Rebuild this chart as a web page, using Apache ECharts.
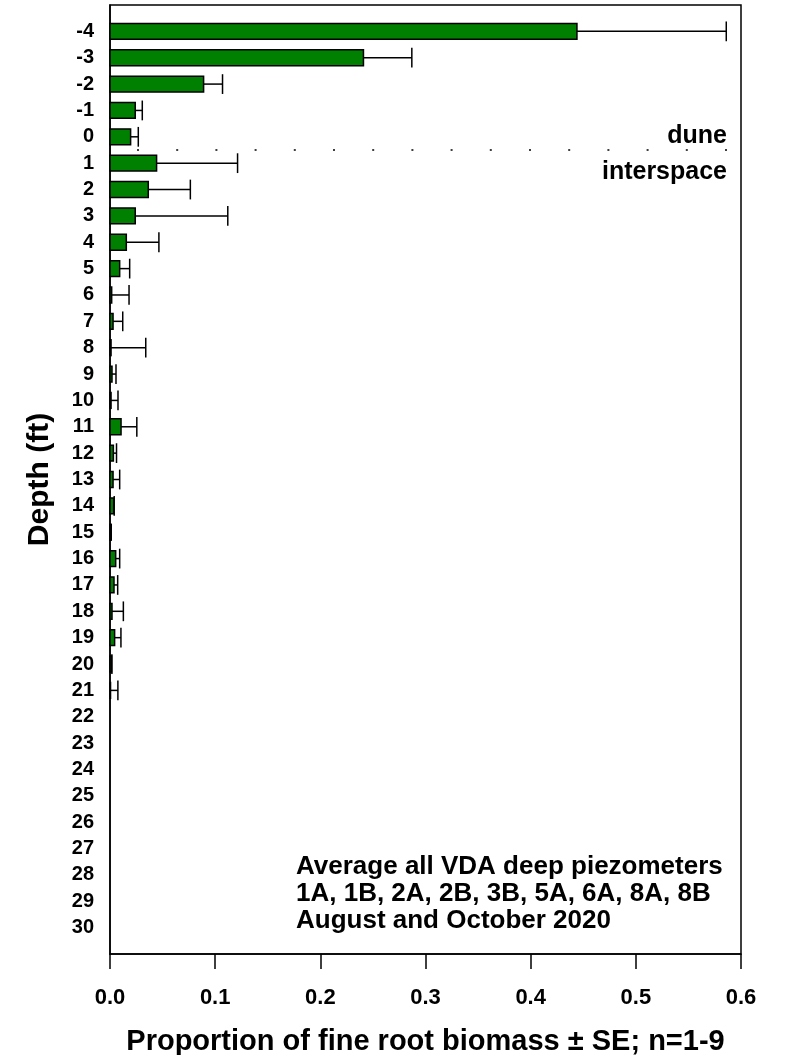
<!DOCTYPE html>
<html>
<head>
<meta charset="utf-8">
<script src="https://cdn.jsdelivr.net/npm/echarts@6/dist/echarts.min.js"></script>
<style>
  html, body { margin: 0; padding: 0; background: #fff; }
  #chart { width: 785px; height: 1055px; }
</style>
</head>
<body>
<div id="chart"></div>
<script>
// Depth below surface (ft); negative values are within the dune
const depths = [-4, -3, -2, -1, 0, 1, 2, 3, 4, 5, 6, 7, 8, 9, 10, 11, 12, 13, 14, 15,
                16, 17, 18, 19, 20, 21, 22, 23, 24, 25, 26, 27, 28, 29, 30];
// Mean proportion of fine root biomass per depth
const means = [0.444, 0.241, 0.089, 0.024, 0.0196, 0.0443, 0.0364, 0.024, 0.0155, 0.0092,
               0.0016, 0.0029, 0.001, 0.0019, 0.001, 0.0105, 0.0032, 0.0029, 0.0035, 0.0012,
               0.0054, 0.0038, 0.0019, 0.0044, 0.0015, 0.0005,
               null, null, null, null, null, null, null, null, null];
// Standard error per depth
const stdErr = [0.142, 0.046, 0.018, 0.0067, 0.0073, 0.077, 0.040, 0.088, 0.031, 0.0095,
                0.0165, 0.0092, 0.033, 0.0038, 0.0066, 0.015, 0.003, 0.0063, 0.0005, 0,
                0.0038, 0.0035, 0.0108, 0.006, 0.0003, 0.007,
                null, null, null, null, null, null, null, null, null];
// Boundary between dune and interspace
const boundaryDepth = 0.5;
const xTicks = { min: 0, max: 0.6, step: 0.1 };
const noteLines = [
  'Average all VDA deep piezometers',
  '1A, 1B, 2A, 2B, 3B, 5A, 6A, 8A, 8B',
  'August and October 2020'
];

const FONT = '"Liberation Sans", Arial, sans-serif';

const rows = depths
  .map((d, i) => [d, means[i], stdErr[i]])
  .filter(r => r[1] !== null);

const chart = echarts.init(document.getElementById('chart'), null, { renderer: 'canvas' });

function renderBar(params, api) {
  const depth = api.value(0);
  const mean = api.value(1);
  const start = api.coord([0, depth]);
  const end = api.coord([mean, depth]);
  const h = api.size([0, 1])[1] * 0.6;
  return {
    type: 'rect',
    shape: { x: start[0], y: start[1] - h / 2, width: end[0] - start[0], height: h },
    style: { fill: '#008000', stroke: '#000', lineWidth: 1.5 }
  };
}

function renderErr(params, api) {
  const depth = api.value(0);
  const mean = api.value(1);
  const se = api.value(2);
  if (!se) return null;
  const a = api.coord([mean, depth]);
  const b = api.coord([mean + se, depth]);
  const cap = api.size([0, 1])[1] * 0.75;
  const style = { stroke: '#000', lineWidth: 1.5, fill: null };
  return {
    type: 'group',
    children: [
      { type: 'line', shape: { x1: a[0], y1: a[1], x2: b[0], y2: b[1] }, style },
      { type: 'line', shape: { x1: b[0], y1: b[1] - cap / 2, x2: b[0], y2: b[1] + cap / 2 }, style }
    ]
  };
}

const labelFont = { fontFamily: FONT, fontWeight: 'bold', color: '#000' };

chart.setOption({
  backgroundColor: '#fff',
  animation: false,
  grid: {
    left: 110, right: 44, top: 5, bottom: 101,
    containLabel: false,
    outerBoundsMode: 'none',
    show: true, borderColor: '#000', borderWidth: 1.5
  },
  xAxis: {
    type: 'value',
    min: xTicks.min, max: xTicks.max, interval: xTicks.step,
    name: 'Proportion of fine root biomass ± SE; n=1-9',
    nameLocation: 'middle',
    nameGap: 73,
    nameTextStyle: Object.assign({ fontSize: 29 }, labelFont),
    axisLine: { show: true, onZero: false, lineStyle: { color: '#000', width: 1.5 } },
    axisTick: { show: true, inside: false, length: 15, lineStyle: { color: '#000', width: 1.5 } },
    axisLabel: Object.assign({
      margin: 33,
      formatter: v => v.toFixed(1),
      fontSize: 22
    }, labelFont),
    splitLine: { show: false }
  },
  yAxis: {
    type: 'value',
    inverse: true,
    min: -5, max: 31, interval: 1,
    name: 'Depth (ft)',
    nameLocation: 'middle',
    nameGap: 55,
    nameRotate: 90,
    nameTextStyle: Object.assign({ fontSize: 30 }, labelFont),
    axisLine: { show: true, onZero: false, lineStyle: { color: '#000', width: 1.5 } },
    axisTick: { show: false },
    axisLabel: Object.assign({
      margin: 16,
      formatter: v => (v < depths[0] || v > depths[depths.length - 1]) ? '' : String(v),
      fontSize: 20
    }, labelFont),
    splitLine: { show: false }
  },
  series: [
    {
      type: 'custom',
      name: 'mean',
      renderItem: renderBar,
      encode: { x: 1, y: 0 },
      data: rows,
      z: 2
    },
    {
      type: 'custom',
      name: 'se',
      renderItem: renderErr,
      encode: { x: [1, 2], y: 0 },
      data: rows,
      z: 3
    },
    {
      type: 'line',
      name: 'boundary',
      data: [],
      silent: true,
      markLine: {
        silent: true,
        symbol: 'none',
        animation: false,
        data: [
          {
            yAxis: boundaryDepth,
            lineStyle: { color: '#000', width: 1.5, type: [2, 37.2], dashOffset: 12.2 },
            label: Object.assign({
              show: true, position: 'insideEndTop', formatter: 'dune', distance: [14, 1],
              fontSize: 25
            }, labelFont)
          },
          {
            yAxis: boundaryDepth,
            lineStyle: { color: 'rgba(0,0,0,0)', width: 0 },
            label: Object.assign({
              show: true, position: 'insideEndBottom', formatter: 'interspace', distance: [14, 10],
              fontSize: 25
            }, labelFont)
          }
        ]
      }
    }
  ],
  graphic: [
    {
      type: 'text',
      left: 296,
      top: 853,
      style: {
        text: noteLines.join('\n'),
        font: 'bold 26px ' + FONT,
        lineHeight: 27,
        fill: '#000',
        textAlign: 'left'
      }
    }
  ]
});
</script>
</body>
</html>
